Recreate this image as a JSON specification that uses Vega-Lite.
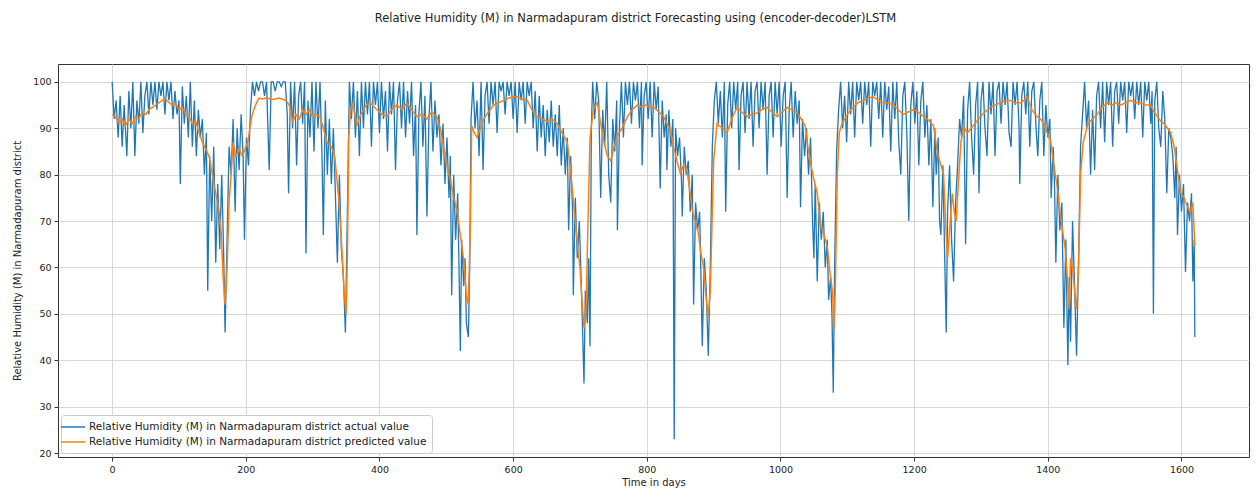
{
"$schema": "https://vega.github.io/schema/vega-lite/v6.json",
"width": 1191, "height": 393,
"autosize": {"type": "none"},
"padding": {"left": 58, "top": 64, "right": 11, "bottom": 34},
"background": "white",
"title": {"text": "Relative Humidity (M) in Narmadapuram district Forecasting using (encoder-decoder)LSTM", "anchor": "middle", "dx": -18, "offset": 40, "fontSize": 11.5, "fontWeight": "normal", "color": "#222", "font": "DejaVu Sans"},
"config": {
  "font": "DejaVu Sans",
  "view": {"stroke": "#333", "strokeWidth": 1},
  "axis": {"domain": false, "grid": true, "gridColor": "#d3d3d3", "gridWidth": 0.9, "tickColor": "#333", "tickSize": 4, "labelFontSize": 9.5, "labelColor": "#222", "titleFontSize": 10, "titleFontWeight": "normal", "titleColor": "#222", "labelPadding": 3}
},
"datasets": {
"actual": [
{"t":0,"v":100},{"t":3,"v":92},{"t":6,"v":96},{"t":9,"v":88},{"t":12,"v":97},{"t":15,"v":86},{"t":18,"v":95},{"t":22,"v":84},{"t":25,"v":98},{"t":28,"v":90},{"t":31,"v":100},{"t":34,"v":84},{"t":37,"v":96},{"t":40,"v":91},{"t":43,"v":100},{"t":46,"v":89},{"t":49,"v":97},{"t":52,"v":100},{"t":55,"v":93},{"t":58,"v":100},{"t":61,"v":95},{"t":64,"v":100},{"t":67,"v":94},{"t":70,"v":100},{"t":73,"v":97},{"t":76,"v":100},{"t":79,"v":93},{"t":82,"v":100},{"t":85,"v":96},{"t":88,"v":100},{"t":91,"v":92},{"t":94,"v":98},{"t":97,"v":93},{"t":100,"v":96},{"t":102,"v":78},{"t":105,"v":99},{"t":108,"v":91},{"t":111,"v":97},{"t":114,"v":88},{"t":117,"v":100},{"t":120,"v":86},{"t":123,"v":96},{"t":126,"v":84},{"t":129,"v":94},{"t":132,"v":88},
{"t":135,"v":92},{"t":138,"v":80},{"t":141,"v":89},{"t":143,"v":55},{"t":146,"v":84},{"t":149,"v":70},{"t":152,"v":86},{"t":155,"v":61},{"t":158,"v":78},{"t":161,"v":64},{"t":164,"v":80},{"t":167,"v":62},{"t":169,"v":46},{"t":172,"v":66},{"t":175,"v":86},{"t":178,"v":80},{"t":181,"v":92},{"t":184,"v":72},{"t":187,"v":90},{"t":190,"v":81},{"t":193,"v":93},{"t":196,"v":84},{"t":198,"v":66},{"t":201,"v":88},{"t":204,"v":82},
{"t":207,"v":94},{"t":210,"v":100},{"t":213,"v":97},{"t":216,"v":100},{"t":219,"v":98},{"t":222,"v":100},{"t":225,"v":100},{"t":228,"v":97},{"t":231,"v":100},{"t":235,"v":81},{"t":238,"v":100},{"t":241,"v":100},{"t":244,"v":98},{"t":247,"v":100},{"t":250,"v":100},{"t":253,"v":99},{"t":256,"v":100},{"t":259,"v":100},{"t":262,"v":93},{"t":264,"v":76},{"t":267,"v":100},{"t":270,"v":90},{"t":273,"v":100},{"t":276,"v":82},{"t":279,"v":97},{"t":282,"v":100},{"t":285,"v":91},
{"t":288,"v":100},{"t":290,"v":63},{"t":293,"v":96},{"t":296,"v":88},{"t":299,"v":100},{"t":302,"v":85},{"t":305,"v":100},{"t":308,"v":90},{"t":311,"v":100},{"t":314,"v":84},{"t":316,"v":67},{"t":319,"v":96},{"t":322,"v":80},{"t":325,"v":92},{"t":328,"v":78},{"t":331,"v":90},{"t":334,"v":76},{"t":337,"v":61},{"t":340,"v":80},{"t":343,"v":64},{"t":346,"v":58},{"t":349,"v":46},{"t":352,"v":72},{"t":355,"v":100},{"t":358,"v":92},
{"t":361,"v":100},{"t":364,"v":88},{"t":367,"v":98},{"t":370,"v":84},{"t":373,"v":100},{"t":376,"v":90},{"t":379,"v":100},{"t":382,"v":93},{"t":385,"v":100},{"t":388,"v":86},{"t":391,"v":100},{"t":394,"v":95},{"t":397,"v":100},{"t":400,"v":89},{"t":403,"v":100},{"t":406,"v":92},{"t":409,"v":98},{"t":412,"v":85},{"t":415,"v":100},{"t":418,"v":93},{"t":421,"v":100},{"t":424,"v":81},{"t":427,"v":96},{"t":430,"v":100},{"t":433,"v":90},{"t":436,"v":100},{"t":439,"v":88},{"t":442,"v":98},{"t":445,"v":91},{"t":448,"v":100},{"t":451,"v":84},{"t":454,"v":95},{"t":456,"v":67},{"t":459,"v":93},{"t":462,"v":100},{"t":465,"v":86},{"t":468,"v":97},{"t":471,"v":71},{"t":474,"v":92},{"t":477,"v":100},{"t":480,"v":85},{"t":483,"v":96},{"t":486,"v":88},{"t":489,"v":93},
{"t":492,"v":82},{"t":495,"v":91},{"t":498,"v":78},{"t":501,"v":88},{"t":504,"v":75},{"t":506,"v":84},{"t":508,"v":54},{"t":511,"v":80},{"t":514,"v":66},{"t":517,"v":76},{"t":519,"v":60},{"t":521,"v":42},{"t":523,"v":66},{"t":526,"v":56},{"t":528,"v":62},{"t":530,"v":48},{"t":533,"v":45},{"t":535,"v":60},{"t":537,"v":92},
{"t":540,"v":100},{"t":543,"v":90},{"t":546,"v":96},{"t":549,"v":84},{"t":552,"v":100},{"t":555,"v":81},{"t":558,"v":97},{"t":561,"v":100},{"t":564,"v":91},{"t":567,"v":100},{"t":570,"v":95},{"t":573,"v":100},{"t":576,"v":89},{"t":579,"v":100},{"t":582,"v":98},{"t":585,"v":100},{"t":588,"v":93},{"t":591,"v":100},{"t":594,"v":97},{"t":597,"v":100},{"t":600,"v":92},{"t":603,"v":100},{"t":606,"v":89},{"t":609,"v":100},{"t":612,"v":96},{"t":615,"v":100},{"t":618,"v":91},{"t":621,"v":100},{"t":624,"v":97},{"t":627,"v":100},{"t":630,"v":90},{"t":633,"v":98},{"t":636,"v":85},{"t":639,"v":97},{"t":642,"v":88},{"t":645,"v":95},{"t":648,"v":84},{"t":651,"v":94},{"t":654,"v":87},{"t":657,"v":96},{"t":660,"v":86},{"t":663,"v":93},{"t":666,"v":84},{"t":669,"v":95},{"t":672,"v":82},{"t":675,"v":90},{"t":678,"v":80},{"t":681,"v":88},
{"t":683,"v":68},{"t":686,"v":84},{"t":689,"v":72},{"t":690,"v":54},{"t":693,"v":75},{"t":696,"v":62},{"t":699,"v":70},{"t":702,"v":56},{"t":704,"v":46},{"t":706,"v":35},{"t":708,"v":55},{"t":711,"v":48},{"t":713,"v":62},{"t":715,"v":43},{"t":717,"v":90},
{"t":719,"v":100},{"t":722,"v":92},{"t":725,"v":100},{"t":728,"v":96},{"t":731,"v":75},{"t":734,"v":94},{"t":737,"v":86},{"t":740,"v":100},{"t":743,"v":80},{"t":746,"v":74},{"t":749,"v":92},{"t":752,"v":85},{"t":755,"v":96},{"t":756,"v":68},{"t":759,"v":90},{"t":762,"v":100},{"t":765,"v":88},{"t":768,"v":100},{"t":771,"v":95},{"t":774,"v":100},{"t":777,"v":91},{"t":780,"v":100},{"t":783,"v":96},{"t":786,"v":100},{"t":789,"v":90},{"t":792,"v":100},{"t":793,"v":82},{"t":796,"v":97},{"t":799,"v":100},{"t":802,"v":92},{"t":805,"v":100},{"t":808,"v":88},{"t":811,"v":100},{"t":814,"v":94},{"t":817,"v":99},{"t":820,"v":77},{"t":823,"v":96},{"t":826,"v":88},{"t":829,"v":93},{"t":830,"v":81},{"t":833,"v":94},{"t":836,"v":86},{"t":839,"v":92},
{"t":841,"v":23},{"t":843,"v":90},{"t":846,"v":84},{"t":849,"v":88},{"t":852,"v":78},{"t":853,"v":71},{"t":856,"v":86},{"t":859,"v":80},{"t":862,"v":83},{"t":865,"v":72},{"t":868,"v":80},{"t":870,"v":52},{"t":873,"v":74},{"t":876,"v":68},{"t":879,"v":72},{"t":881,"v":58},{"t":883,"v":43},{"t":886,"v":62},{"t":889,"v":55},{"t":892,"v":41},{"t":895,"v":60},{"t":898,"v":86},{"t":901,"v":96},
{"t":904,"v":100},{"t":907,"v":91},{"t":910,"v":98},{"t":913,"v":88},{"t":916,"v":100},{"t":918,"v":72},{"t":921,"v":95},{"t":924,"v":100},{"t":927,"v":90},{"t":930,"v":100},{"t":933,"v":94},{"t":936,"v":100},{"t":938,"v":81},{"t":941,"v":97},{"t":944,"v":100},{"t":947,"v":89},{"t":950,"v":100},{"t":953,"v":92},{"t":956,"v":100},{"t":959,"v":86},{"t":962,"v":98},{"t":965,"v":100},{"t":968,"v":90},{"t":971,"v":100},{"t":974,"v":94},{"t":977,"v":100},{"t":980,"v":80},{"t":983,"v":97},{"t":986,"v":100},{"t":989,"v":88},{"t":992,"v":100},{"t":995,"v":93},{"t":998,"v":100},{"t":1001,"v":86},{"t":1004,"v":97},{"t":1007,"v":100},{"t":1010,"v":75},{"t":1013,"v":94},{"t":1016,"v":100},{"t":1019,"v":88},{"t":1022,"v":98},{"t":1025,"v":91},{"t":1028,"v":96},{"t":1030,"v":73},{"t":1033,"v":92},{"t":1036,"v":84},{"t":1039,"v":90},
{"t":1042,"v":80},{"t":1045,"v":88},{"t":1048,"v":70},{"t":1050,"v":62},{"t":1052,"v":78},{"t":1055,"v":57},{"t":1058,"v":74},{"t":1061,"v":66},{"t":1064,"v":72},{"t":1067,"v":60},{"t":1070,"v":66},{"t":1072,"v":53},{"t":1075,"v":58},{"t":1077,"v":50},{"t":1079,"v":33},{"t":1081,"v":60},{"t":1084,"v":85},{"t":1087,"v":94},
{"t":1090,"v":100},{"t":1093,"v":90},{"t":1096,"v":97},{"t":1099,"v":87},{"t":1102,"v":100},{"t":1105,"v":93},{"t":1108,"v":100},{"t":1111,"v":88},{"t":1114,"v":100},{"t":1117,"v":96},{"t":1120,"v":100},{"t":1123,"v":91},{"t":1126,"v":100},{"t":1129,"v":95},{"t":1132,"v":100},{"t":1135,"v":86},{"t":1138,"v":100},{"t":1141,"v":97},{"t":1144,"v":100},{"t":1147,"v":92},{"t":1150,"v":100},{"t":1153,"v":88},{"t":1156,"v":100},{"t":1159,"v":94},{"t":1162,"v":99},{"t":1165,"v":85},{"t":1168,"v":100},{"t":1171,"v":92},{"t":1174,"v":100},{"t":1177,"v":87},{"t":1180,"v":80},{"t":1183,"v":97},{"t":1186,"v":100},{"t":1189,"v":89},{"t":1192,"v":70},{"t":1195,"v":95},{"t":1198,"v":100},{"t":1201,"v":91},{"t":1204,"v":98},{"t":1207,"v":82},{"t":1210,"v":96},{"t":1213,"v":100},{"t":1216,"v":88},{"t":1219,"v":95},{"t":1222,"v":82},{"t":1225,"v":92},{"t":1228,"v":73},{"t":1231,"v":90},
{"t":1233,"v":80},{"t":1236,"v":88},{"t":1238,"v":70},{"t":1240,"v":67},{"t":1243,"v":82},{"t":1246,"v":60},{"t":1248,"v":46},{"t":1250,"v":72},{"t":1253,"v":82},{"t":1256,"v":66},{"t":1259,"v":57},{"t":1262,"v":74},{"t":1265,"v":82},{"t":1268,"v":92},{"t":1271,"v":88},
{"t":1274,"v":97},{"t":1277,"v":65},{"t":1280,"v":94},{"t":1283,"v":100},{"t":1286,"v":88},{"t":1289,"v":80},{"t":1292,"v":95},{"t":1295,"v":100},{"t":1297,"v":76},{"t":1300,"v":96},{"t":1303,"v":100},{"t":1306,"v":90},{"t":1309,"v":84},{"t":1312,"v":100},{"t":1315,"v":93},{"t":1318,"v":100},{"t":1321,"v":84},{"t":1324,"v":98},{"t":1327,"v":100},{"t":1330,"v":91},{"t":1333,"v":100},{"t":1336,"v":95},{"t":1339,"v":100},{"t":1342,"v":89},{"t":1345,"v":86},{"t":1348,"v":100},{"t":1351,"v":95},{"t":1354,"v":100},{"t":1357,"v":90},{"t":1358,"v":78},{"t":1361,"v":97},{"t":1364,"v":100},{"t":1367,"v":93},{"t":1370,"v":100},{"t":1373,"v":86},{"t":1376,"v":98},{"t":1379,"v":100},{"t":1382,"v":91},{"t":1385,"v":84},{"t":1388,"v":96},{"t":1391,"v":100},{"t":1394,"v":84},{"t":1397,"v":95},{"t":1400,"v":88},{"t":1403,"v":92},{"t":1405,"v":75},{"t":1408,"v":86},
{"t":1410,"v":78},{"t":1412,"v":61},{"t":1415,"v":80},{"t":1418,"v":68},{"t":1421,"v":74},{"t":1424,"v":47},{"t":1427,"v":66},{"t":1430,"v":39},{"t":1432,"v":58},{"t":1434,"v":44},{"t":1437,"v":70},{"t":1440,"v":56},{"t":1443,"v":41},{"t":1446,"v":62},{"t":1449,"v":86},{"t":1452,"v":93},
{"t":1455,"v":100},{"t":1458,"v":90},{"t":1461,"v":96},{"t":1464,"v":80},{"t":1467,"v":94},{"t":1470,"v":81},{"t":1473,"v":97},{"t":1476,"v":100},{"t":1479,"v":90},{"t":1482,"v":100},{"t":1485,"v":87},{"t":1488,"v":100},{"t":1491,"v":95},{"t":1494,"v":100},{"t":1497,"v":86},{"t":1500,"v":98},{"t":1503,"v":100},{"t":1506,"v":91},{"t":1509,"v":100},{"t":1512,"v":96},{"t":1515,"v":100},{"t":1518,"v":89},{"t":1521,"v":100},{"t":1524,"v":97},{"t":1527,"v":100},{"t":1530,"v":92},{"t":1533,"v":100},{"t":1536,"v":95},{"t":1539,"v":100},{"t":1542,"v":88},{"t":1545,"v":100},{"t":1548,"v":96},{"t":1551,"v":100},{"t":1554,"v":91},{"t":1556,"v":98},{"t":1558,"v":50},{"t":1560,"v":96},{"t":1563,"v":100},{"t":1566,"v":90},{"t":1569,"v":86},{"t":1572,"v":98},{"t":1575,"v":92},{"t":1578,"v":76},{"t":1581,"v":90},{"t":1584,"v":88},
{"t":1587,"v":84},{"t":1590,"v":75},{"t":1592,"v":86},{"t":1594,"v":67},{"t":1597,"v":80},{"t":1600,"v":72},{"t":1603,"v":78},{"t":1606,"v":59},{"t":1609,"v":74},{"t":1612,"v":70},{"t":1615,"v":76},{"t":1617,"v":57},{"t":1619,"v":66},{"t":1620,"v":45}
],
"pred": [
{"t":0,"v":93},{"t":5,"v":92.5},{"t":10,"v":91},{"t":15,"v":92},{"t":20,"v":90.5},{"t":25,"v":92},{"t":30,"v":91},{"t":35,"v":92.5},{"t":40,"v":92},{"t":45,"v":93.5},{"t":50,"v":93},{"t":55,"v":94},{"t":60,"v":94.5},{"t":65,"v":95},{"t":70,"v":95.5},{"t":75,"v":96},{"t":80,"v":96.3},{"t":85,"v":95.5},{"t":90,"v":95},{"t":95,"v":95.3},{"t":100,"v":94},{"t":105,"v":94.5},{"t":110,"v":93},{"t":115,"v":92.5},{"t":120,"v":91},{"t":125,"v":91.5},{"t":130,"v":89},{"t":135,"v":87},{"t":140,"v":85.5},{"t":145,"v":84},{"t":150,"v":80},{"t":155,"v":76},{"t":160,"v":72},{"t":163,"v":68},{"t":166,"v":58},{"t":169,"v":52},{"t":172,"v":60},{"t":175,"v":74},{"t":178,"v":80},{"t":181,"v":87},{"t":185,"v":84},{"t":190,"v":85.5},{"t":195,"v":84},{"t":200,"v":86},{"t":203,"v":87},{"t":206,"v":90},{"t":209,"v":92.5},{"t":212,"v":94},{"t":216,"v":95.5},{"t":220,"v":96.5},{"t":225,"v":96.3},{"t":230,"v":96.5},{"t":240,"v":96.2},{"t":250,"v":96.5},{"t":260,"v":96},{"t":265,"v":95},{"t":270,"v":91.5},{"t":275,"v":93},{"t":280,"v":92},{"t":285,"v":94},{"t":290,"v":93},{"t":295,"v":94},{"t":300,"v":92.5},{"t":305,"v":93},{"t":311,"v":92.5},{"t":316,"v":90},{"t":322,"v":86.8},{"t":328,"v":86},{"t":333,"v":84},{"t":339,"v":75},{"t":343,"v":66},{"t":347,"v":55},{"t":350,"v":50},{"t":352,"v":62},{"t":354,"v":88},{"t":357,"v":94},{"t":360,"v":95.5},{"t":366,"v":90.5},{"t":372,"v":93},{"t":380,"v":95},{"t":386,"v":95.5},{"t":396,"v":94},{"t":404,"v":93},{"t":411,"v":92.5},{"t":418,"v":94},{"t":426,"v":95},{"t":434,"v":94},{"t":441,"v":95.5},{"t":448,"v":94},{"t":456,"v":92.5},{"t":464,"v":93},{"t":471,"v":92},{"t":478,"v":93.5},{"t":486,"v":92.5},{"t":491,"v":90},{"t":496,"v":86},{"t":501,"v":82},{"t":506,"v":79},{"t":511,"v":75},{"t":516,"v":72.4},{"t":521,"v":67},{"t":526,"v":61.6},{"t":530,"v":54},{"t":533,"v":52},{"t":536,"v":70},{"t":538,"v":90.5},{"t":542,"v":89},{"t":546,"v":88},{"t":551,"v":90},{"t":556,"v":92},{"t":563,"v":93.5},{"t":571,"v":95},{"t":578,"v":95.5},{"t":586,"v":96},{"t":593,"v":96.5},{"t":600,"v":96.8},{"t":606,"v":96.8},{"t":613,"v":96.3},{"t":621,"v":96},{"t":628,"v":94},{"t":636,"v":92.5},{"t":643,"v":92},{"t":651,"v":91.5},{"t":658,"v":92},{"t":666,"v":91},{"t":673,"v":89},{"t":681,"v":87},{"t":685,"v":82},{"t":689,"v":76},{"t":693,"v":70},{"t":696,"v":65},{"t":700,"v":60},{"t":703,"v":53},{"t":706,"v":47},{"t":709,"v":50},{"t":712,"v":70},{"t":715,"v":88},{"t":720,"v":94},{"t":726,"v":95.5},{"t":731,"v":91},{"t":736,"v":87},{"t":741,"v":84},{"t":746,"v":83},{"t":751,"v":86},{"t":756,"v":88.5},{"t":763,"v":90},{"t":771,"v":92.5},{"t":778,"v":94},{"t":786,"v":95},{"t":790,"v":94.6},{"t":798,"v":95},{"t":805,"v":94.5},{"t":810,"v":94.6},{"t":818,"v":93.5},{"t":825,"v":92.5},{"t":830,"v":91},{"t":835,"v":89.6},{"t":840,"v":86},{"t":845,"v":83},{"t":850,"v":80.3},{"t":855,"v":82},{"t":860,"v":81},{"t":864,"v":77},{"t":868,"v":72.4},{"t":872,"v":70},{"t":877,"v":67.5},{"t":881,"v":63},{"t":885,"v":60},{"t":889,"v":53},{"t":892,"v":49.5},{"t":895,"v":55},{"t":898,"v":72},{"t":900,"v":83},{"t":905,"v":91},{"t":908,"v":90.5},{"t":914,"v":90},{"t":920,"v":89},{"t":927,"v":92},{"t":935,"v":94.5},{"t":942,"v":93.5},{"t":950,"v":92.5},{"t":957,"v":93},{"t":965,"v":93.3},{"t":972,"v":94},{"t":980,"v":94.5},{"t":987,"v":93.5},{"t":995,"v":92.5},{"t":1002,"v":93.5},{"t":1010,"v":94.5},{"t":1017,"v":94},{"t":1025,"v":93.3},{"t":1031,"v":92},{"t":1037,"v":90.5},{"t":1041,"v":86},{"t":1045,"v":82.5},{"t":1050,"v":79},{"t":1055,"v":76},{"t":1060,"v":69},{"t":1065,"v":67},{"t":1070,"v":64.5},{"t":1074,"v":59},{"t":1078,"v":54.5},{"t":1080,"v":47},{"t":1082,"v":55},{"t":1085,"v":80},{"t":1088,"v":89},{"t":1092,"v":91},{"t":1100,"v":93},{"t":1109,"v":94.6},{"t":1116,"v":95.5},{"t":1124,"v":96},{"t":1131,"v":96.5},{"t":1139,"v":96.8},{"t":1146,"v":96},{"t":1154,"v":95.5},{"t":1161,"v":95.5},{"t":1169,"v":95},{"t":1176,"v":94},{"t":1184,"v":93},{"t":1191,"v":93.5},{"t":1199,"v":94},{"t":1206,"v":93.5},{"t":1214,"v":92.5},{"t":1220,"v":92},{"t":1229,"v":90.5},{"t":1235,"v":84.6},{"t":1240,"v":82},{"t":1244,"v":80},{"t":1247,"v":70},{"t":1250,"v":62},{"t":1253,"v":68},{"t":1257,"v":76},{"t":1260,"v":72},{"t":1263,"v":70},{"t":1266,"v":78},{"t":1270,"v":87},{"t":1274,"v":90.5},{"t":1279,"v":89},{"t":1284,"v":89.8},{"t":1291,"v":91},{"t":1299,"v":92.5},{"t":1306,"v":93.5},{"t":1314,"v":94.5},{"t":1321,"v":95},{"t":1329,"v":95.5},{"t":1336,"v":96},{"t":1344,"v":96},{"t":1351,"v":95.5},{"t":1359,"v":95.5},{"t":1364,"v":96},{"t":1369,"v":96.8},{"t":1376,"v":94},{"t":1384,"v":92.5},{"t":1389,"v":92},{"t":1394,"v":91},{"t":1399,"v":89},{"t":1404,"v":87.5},{"t":1409,"v":82},{"t":1414,"v":77.4},{"t":1418,"v":72.4},{"t":1422,"v":68},{"t":1426,"v":64},{"t":1430,"v":56},{"t":1432,"v":51},{"t":1434,"v":62},{"t":1437,"v":60},{"t":1440,"v":55},{"t":1443,"v":51},{"t":1446,"v":60},{"t":1449,"v":80},{"t":1453,"v":87},{"t":1460,"v":91},{"t":1467,"v":92},{"t":1474,"v":93},{"t":1481,"v":94.5},{"t":1489,"v":95.5},{"t":1496,"v":95},{"t":1502,"v":95.5},{"t":1509,"v":95},{"t":1516,"v":95.5},{"t":1524,"v":96},{"t":1531,"v":95.5},{"t":1539,"v":95.5},{"t":1546,"v":95},{"t":1554,"v":95},{"t":1559,"v":93.5},{"t":1564,"v":92.5},{"t":1569,"v":91.5},{"t":1574,"v":91},{"t":1579,"v":90},{"t":1584,"v":89},{"t":1589,"v":86},{"t":1594,"v":81},{"t":1599,"v":76},{"t":1604,"v":75},{"t":1609,"v":73},{"t":1613,"v":72},{"t":1617,"v":74},{"t":1620,"v":64.5}
]
},
"encoding": {
  "x": {"field": "t", "type": "quantitative", "scale": {"domain": [-81, 1701], "nice": false, "zero": false}, "axis": {"values": [0,200,400,600,800,1000,1200,1400,1600], "format": "d", "title": "Time in days", "titlePadding": 4, "labelFlush": false}},
  "y": {"field": "v", "type": "quantitative", "scale": {"domain": [19.15, 103.85], "nice": false, "zero": false}, "axis": {"values": [20,30,40,50,60,70,80,90,100], "format": "d", "title": "Relative Humidity (M) in Narmadapuram district", "titlePadding": 10}}
},
"layer": [
  {"data": {"name": "actual"}, "mark": {"type": "line", "strokeWidth": 1.3, "clip": true},
   "encoding": {"color": {"datum": "Relative Humidity (M) in Narmadapuram district actual value", "type": "nominal",
     "scale": {"domain": ["Relative Humidity (M) in Narmadapuram district actual value", "Relative Humidity (M) in Narmadapuram district predicted value"], "range": ["#1f77b4", "#ff7f0e"]},
     "legend": {"title": null, "orient": "none", "legendX": 3, "legendY": 351, "symbolType": "M-2,0H2", "symbolSize": 144, "symbolStrokeWidth": 1.5, "labelFontSize": 10.5, "labelColor": "#222", "labelOffset": 9, "labelLimit": 0, "fillColor": "white", "strokeColor": "#cccccc", "padding": 5, "cornerRadius": 3, "rowPadding": 2}}}},
  {"data": {"name": "pred"}, "mark": {"type": "line", "strokeWidth": 1.5, "clip": true},
   "encoding": {"color": {"datum": "Relative Humidity (M) in Narmadapuram district predicted value", "type": "nominal"}}}
]
}
